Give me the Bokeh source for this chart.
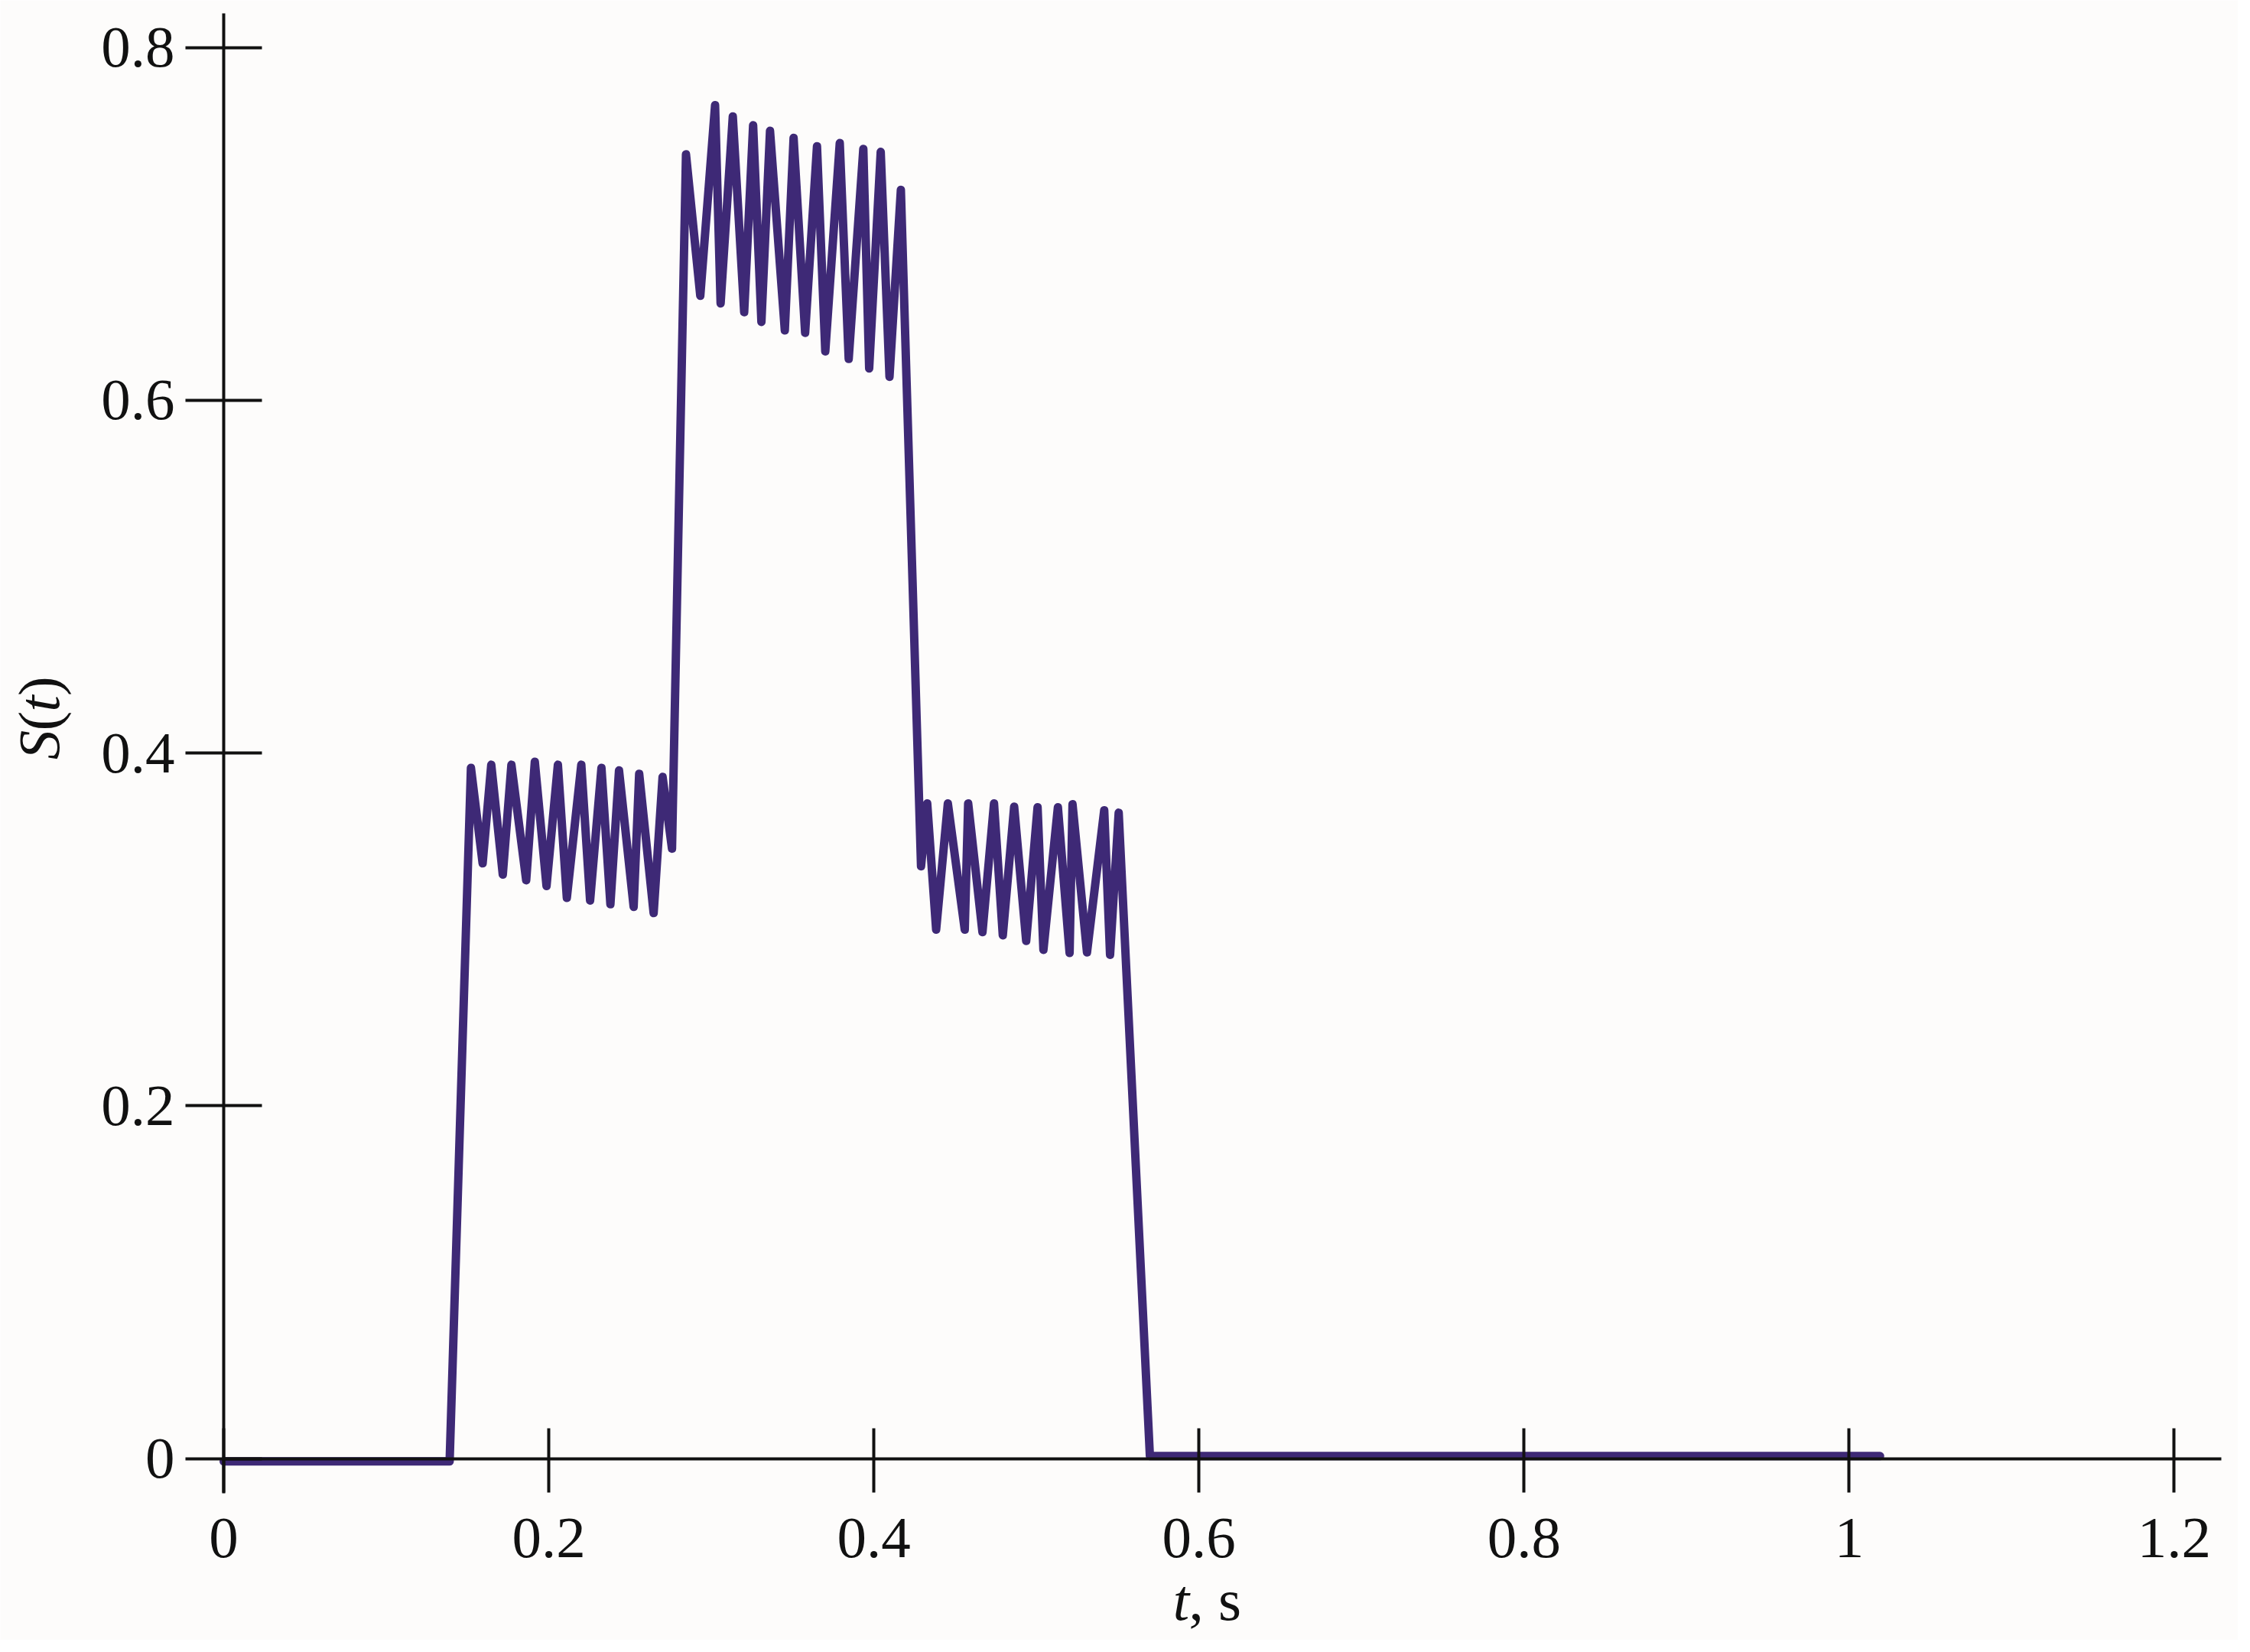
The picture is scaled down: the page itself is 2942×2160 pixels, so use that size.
import math
from bokeh.plotting import figure
from bokeh.models import Range1d, FixedTicker, Label
from bokeh.embed import file_html
from bokeh.resources import INLINE

# ---- data ----
t_base_start = [0.0, 0.139]
s_base_start = [-0.0015, -0.0015]

t_level1 = [0.1521, 0.1593, 0.1646, 0.1717, 0.1770, 0.1861, 0.1914, 0.1986, 0.2056, 0.2111,
            0.2200, 0.2254, 0.2324, 0.2379, 0.2432, 0.2522, 0.2556, 0.2645, 0.2700, 0.2758]
s_level1 = [0.3916, 0.3375, 0.3934, 0.3311, 0.3934, 0.3279, 0.3951, 0.3246, 0.3934, 0.3179,
            0.3934, 0.3164, 0.3916, 0.3143, 0.3902, 0.3128, 0.3883, 0.3093, 0.3865, 0.3458]

t_level2 = [0.2844, 0.2932, 0.3023, 0.3057, 0.3132, 0.3202, 0.3257, 0.3308, 0.3361, 0.3452,
            0.3506, 0.3577, 0.3650, 0.3701, 0.3790, 0.3845, 0.3935, 0.3971, 0.4042, 0.4096, 0.4166]
s_level2 = [0.7394, 0.6592, 0.7673, 0.6549, 0.7609, 0.6499, 0.7559, 0.6444, 0.7527, 0.6396,
            0.7487, 0.6382, 0.7440, 0.6277, 0.7458, 0.6234, 0.7425, 0.6180, 0.7408, 0.6133, 0.7193]

t_level3 = [0.4290, 0.4328, 0.4383, 0.4455, 0.4559, 0.4580, 0.4668, 0.4739, 0.4793, 0.4863,
            0.4937, 0.5007, 0.5043, 0.5132, 0.5204, 0.5222, 0.5311, 0.5417, 0.5453, 0.5506]
s_level3 = [0.3358, 0.3715, 0.2999, 0.3715, 0.2999, 0.3715, 0.2985, 0.3715, 0.2967, 0.3696,
            0.2935, 0.3693, 0.2884, 0.3693, 0.2867, 0.3710, 0.2870, 0.3676, 0.2856, 0.3662]

t_base_end = [0.5698, 1.019]
s_base_end = [0.0015, 0.0015]

x_ticks = [0, 0.2, 0.4, 0.6, 0.8, 1, 1.2]
x_tick_labels = ["0", "0.2", "0.4", "0.6", "0.8", "1", "1.2"]
y_ticks = [0, 0.2, 0.4, 0.6, 0.8]
y_tick_labels = ["0", "0.2", "0.4", "0.6", "0.8"]

t_all = t_base_start + t_level1 + t_level2 + t_level3 + t_base_end
s_all = s_base_start + s_level1 + s_level2 + s_level3 + s_base_end

# ---- styling ----
FONT = "Liberation Serif"
FS = "77px"
BG = "#fdfcfb"
INK = "#111111"
LINE = "#3e2976"
AXW = 4

# the plot frame covers the whole canvas; both axes cross at the origin
p = figure(width=2926, height=2144, output_backend="svg", toolbar_location=None,
           x_range=Range1d(-0.13739, 1.23930), y_range=Range1d(-0.10284, 0.82667),
           min_border_left=0, min_border_right=0, min_border_top=0, min_border_bottom=0)
p.background_fill_color = BG
p.border_fill_color = BG
p.outline_line_color = None
p.grid.visible = False

p.line(t_all, s_all, line_color=LINE, line_width=11, line_join="round", line_cap="round")

xa = p.xaxis[0]
xa.fixed_location = 0
xa.bounds = (0, 1.229)
xa.ticker = FixedTicker(ticks=x_ticks)
xa.major_label_overrides = dict(zip(x_ticks, x_tick_labels))
xa.minor_tick_line_color = None
xa.major_tick_in = 40
xa.major_tick_out = 44
xa.major_label_standoff = 35
xa.axis_line_width = AXW
xa.major_tick_line_width = AXW
xa.axis_line_color = INK
xa.major_tick_line_color = INK
xa.major_label_text_font = FONT
xa.major_label_text_font_size = FS
xa.major_label_text_color = INK

ya = p.yaxis[0]
ya.fixed_location = 0
ya.bounds = (-0.0195, 0.8194)
ya.ticker = FixedTicker(ticks=y_ticks)
ya.major_label_overrides = dict(zip(y_ticks, y_tick_labels))
ya.minor_tick_line_color = None
ya.major_tick_in = 50
ya.major_tick_out = 50
ya.major_label_standoff = 14
ya.axis_line_width = AXW
ya.major_tick_line_width = AXW
ya.axis_line_color = INK
ya.major_tick_line_color = INK
ya.major_label_text_font = FONT
ya.major_label_text_font_size = FS
ya.major_label_text_color = INK
ya.major_label_orientation = "horizontal"

# axis titles with mixed italic / upright text
def lab(x, y, text, italic, angle=0.0):
    p.add_layout(Label(x=x, y=y, x_units="data", y_units="data", text=text,
                       text_font=FONT, text_font_size=FS, text_color=INK,
                       text_font_style="italic" if italic else "normal",
                       text_align="left", text_baseline="alphabetic", angle=angle))

lab(0.584, -0.0801, "t", True)
lab(0.5938, -0.0801, ", s", False)

a = math.pi / 2
lab(-0.1138, 0.3963, "S", True, a)
lab(-0.1138, 0.4126, "(", False, a)
lab(-0.1138, 0.4234, "t", True, a)
lab(-0.1138, 0.4324, ")", False, a)

open("out.html", "w").write(file_html(p, INLINE))
